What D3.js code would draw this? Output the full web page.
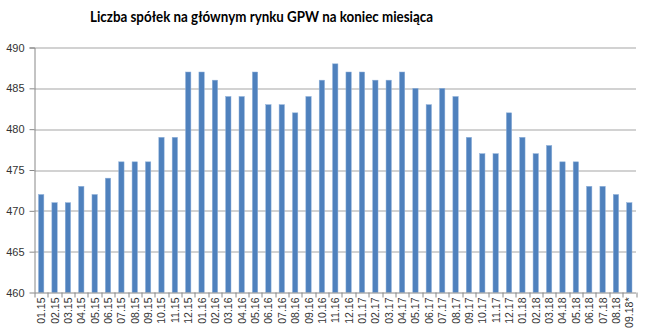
<!DOCTYPE html>
<html>
<head>
<meta charset="utf-8">
<script src="https://cdn.jsdelivr.net/npm/d3@7"></script>
<style>
  body { margin: 0; background: #fff; }
  svg text { font-family: "Liberation Sans", Arial, sans-serif; }
</style>
</head>
<body>
<svg id="chart" width="645" height="334"></svg>
<script>
var title = "Liczba spółek na głównym rynku GPW na koniec miesiąca";

var months = [
	"01.15","02.15","03.15","04.15","05.15","06.15","07.15","08.15","09.15","10.15","11.15","12.15",
	"01.16","02.16","03.16","04.16","05.16","06.16","07.16","08.16","09.16","10.16","11.16","12.16",
	"01.17","02.17","03.17","04.17","05.17","06.17","07.17","08.17","09.17","10.17","11.17","12.17",
	"01.18","02.18","03.18","04.18","05.18","06.18","07.18","08.18","09.18*"
];

var companies = [
	472, 471, 471, 473, 472, 474, 476, 476, 476, 479, 479, 487,
	487, 486, 484, 484, 487, 483, 483, 482, 484, 486, 488, 487,
	487, 486, 486, 487, 485, 483, 485, 484, 479, 477, 477, 482,
	479, 477, 478, 476, 476, 473, 473, 472, 471
];

var yTicks = [460, 465, 470, 475, 480, 485, 490];

var svg = d3.select("#chart"),
	margin = {top: 47.5, right: 9, bottom: 41.5, left: 34.5},
	width = +svg.attr("width") - margin.left - margin.right,
	height = +svg.attr("height") - margin.top - margin.bottom;

var x = d3.scaleBand().domain(months).range([0, width]).paddingInner(0.6).paddingOuter(0.3),
	y = d3.scaleLinear().domain([460, 490]).range([height, 0]);

var g = svg.append("g").attr("transform", "translate(" + margin.left + "," + margin.top + ")");

// title (narrowed to the original's width)
svg.append("text")
	.attr("x", 90)
	.attr("y", 22)
	.attr("textLength", 343)
	.attr("lengthAdjust", "spacingAndGlyphs")
	.style("font-family", "Lato, 'Open Sans', sans-serif")
	.style("font-weight", "bold")
	.style("font-size", "15.5px")
	.style("fill", "#000")
	.text(title);

// gridlines
g.selectAll(".grid").data(yTicks.slice(1)).enter().append("line")
	.attr("x1", 0).attr("x2", width)
	.attr("y1", function(d) { return Math.round(y(d)) + 0.5; })
	.attr("y2", function(d) { return Math.round(y(d)) + 0.5; })
	.attr("stroke", "#a6a6a6")
	.attr("stroke-width", 1.2);

// bars
g.selectAll(".bar").data(companies).enter().append("rect")
	.attr("x", function(d, i) { return x(months[i]); })
	.attr("y", function(d) { return y(d); })
	.attr("width", x.bandwidth())
	.attr("height", function(d) { return height - y(d); })
	.attr("fill", "#4f81bd")
	.attr("stroke", "#8eb0da")
	.attr("stroke-width", 0.5);

// y axis
var yAxis = g.append("g")
	.call(d3.axisLeft(y).tickValues(yTicks).tickSize(5).tickPadding(5));
yAxis.select(".domain").attr("stroke", "#888").attr("d", "M-5,0.5H0.5V" + height);
yAxis.selectAll(".tick line").attr("stroke", "#888");
yAxis.selectAll(".tick text").style("font-size", "11px").style("fill", "#333");

// x axis with ticks between categories
var step = x.step();
var xAxis = g.append("g").attr("transform", "translate(0," + height + ")");
xAxis.append("line").attr("x1", 0).attr("x2", width).attr("y1", 0.5).attr("y2", 0.5).attr("stroke", "#888");
xAxis.selectAll(".xt").data(d3.range(months.length + 1)).enter().append("line")
	.attr("x1", function(i) { return Math.round(i * step) + 0.5; })
	.attr("x2", function(i) { return Math.round(i * step) + 0.5; })
	.attr("y1", 0).attr("y2", 5)
	.attr("stroke", "#888");
xAxis.selectAll(".xl").data(months).enter().append("text")
	.attr("transform", function(d) {
		return "translate(" + (x(d) + x.bandwidth() / 2 + 4) + ",5) rotate(-90)";
	})
	.attr("text-anchor", "end")
	.style("font-size", "10.5px")
	.style("fill", "#333")
	.text(function(d) { return d; });
</script>
</body>
</html>
